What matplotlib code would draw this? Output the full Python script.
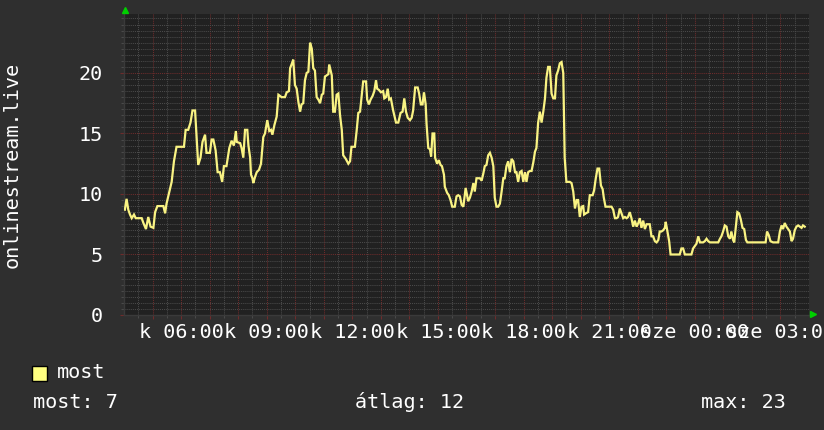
import matplotlib
matplotlib.use("Agg")
import matplotlib.pyplot as plt
from matplotlib.patches import Rectangle
from matplotlib.lines import Line2D

plt.rcParams["font.family"] = ["DejaVu Sans Mono"]


# =========================
# data (hours since Tuesday 00:00, viewers)
# =========================

t_a = [4.03, 4.09, 4.15, 4.21, 4.27, 4.35, 4.41, 4.44, 4.62, 4.68, 4.77, 4.85,
       4.93, 5.03, 5.09, 5.17, 5.38, 5.44, 5.49, 5.59, 5.67, 5.75, 5.84, 6.10,
       6.16, 6.25, 6.33, 6.40, 6.49, 6.54, 6.60, 6.68, 6.75, 6.84, 6.89, 7.01,
       7.07, 7.13, 7.21, 7.28, 7.36, 7.44, 7.50, 7.59, 7.69, 7.77, 7.85, 7.92]
v_a = [8.7, 9.6, 8.7, 8.3, 8.0, 8.3, 8.0, 8.0, 8.0, 7.6, 7.1, 8.1,
       7.3, 7.2, 8.5, 9.0, 9.0, 8.4, 9.2, 10.2, 11.0, 12.7, 13.9, 13.9,
       15.3, 15.3, 15.9, 16.9, 16.9, 14.9, 12.4, 13.0, 14.3, 14.9, 13.4, 13.4,
       14.5, 14.5, 13.6, 11.8, 11.8, 11.0, 12.3, 12.3, 13.8, 14.4, 14.0, 15.2]

t_b = [7.95, 8.07, 8.12, 8.18, 8.24, 8.32, 8.36, 8.42, 8.45, 8.50, 8.53, 8.59,
       8.65, 8.73, 8.80, 8.88, 8.94, 9.02, 9.09, 9.15, 9.20, 9.27, 9.35, 9.41,
       9.47, 9.52, 9.64, 9.70, 9.78, 9.82, 9.87, 9.93, 9.99, 10.05, 10.11, 10.17,
       10.22, 10.28, 10.34, 10.40, 10.46, 10.52, 10.58, 10.63, 10.69, 10.75, 10.81, 10.87,
       10.93, 10.98, 11.04, 11.10, 11.16, 11.19, 11.28, 11.33, 11.39, 11.45, 11.51, 11.57,
       11.63, 11.68, 11.77, 11.86]
v_b = [14.3, 14.2, 13.8, 13.0, 15.3, 15.3, 14.0, 13.0, 11.6, 11.3, 10.9, 11.4,
       11.8, 12.0, 12.5, 14.7, 15.0, 16.1, 15.2, 15.3, 14.9, 15.7, 16.4, 18.2,
       18.1, 18.0, 18.0, 18.4, 18.5, 20.4, 20.7, 21.1, 19.0, 18.7, 17.6, 16.8,
       17.4, 17.5, 19.4, 20.0, 20.1, 22.5, 22.0, 20.4, 20.2, 18.0, 17.8, 17.5,
       18.2, 18.3, 19.7, 19.8, 19.9, 20.7, 19.8, 16.8, 16.8, 18.2, 18.3, 16.5,
       15.3, 13.2, 12.9, 12.5]

t_c = [11.92, 11.97, 12.09, 12.15, 12.21, 12.27, 12.32, 12.38, 12.48, 12.52, 12.58, 12.64,
       12.71, 12.77, 12.83, 12.87, 12.93, 13.00, 13.08, 13.12, 13.18, 13.24, 13.29, 13.35,
       13.43, 13.53, 13.61, 13.69, 13.76, 13.82, 13.88, 13.94, 14.02, 14.08, 14.13, 14.20,
       14.29, 14.34, 14.40, 14.46, 14.51, 14.57, 14.60, 14.66, 14.72, 14.76, 14.81, 14.87,
       14.90, 14.97, 15.03, 15.09, 15.14, 15.21, 15.24, 15.32, 15.38, 15.44, 15.50, 15.59,
       15.65, 15.71, 15.77, 15.83, 15.89]
v_c = [12.7, 13.9, 13.9, 15.2, 16.7, 16.8, 17.9, 19.3, 19.3, 17.8, 17.4, 17.8,
       18.1, 18.5, 19.4, 18.7, 18.6, 18.4, 18.5, 17.9, 18.0, 18.7, 17.8, 17.9,
       16.9, 15.9, 15.9, 16.7, 16.8, 17.9, 16.8, 16.3, 16.1, 16.3, 16.9, 18.8,
       18.8, 18.3, 17.4, 17.4, 18.4, 17.4, 15.8, 13.8, 13.7, 13.1, 15.0, 15.0,
       13.0, 12.5, 12.8, 12.4, 12.3, 11.6, 10.6, 10.1, 9.9, 9.5, 8.95, 8.95,
       9.8, 9.9, 9.8, 9.1, 8.95]

t_d = [15.97, 16.06, 16.12, 16.18, 16.24, 16.29, 16.35, 16.41, 16.47, 16.53, 16.59, 16.64,
       16.70, 16.76, 16.82, 16.88, 16.94, 16.99, 17.05, 17.11, 17.17, 17.23, 17.29, 17.34,
       17.40, 17.46, 17.52, 17.58, 17.64, 17.70, 17.75, 17.81, 17.87, 17.93, 17.99, 18.05,
       18.10, 18.16, 18.22, 18.28, 18.34, 18.40, 18.45, 18.51, 18.57, 18.63, 18.69, 18.75,
       18.80, 18.86, 18.92, 18.98, 19.04, 19.10, 19.15, 19.21, 19.27, 19.33, 19.39, 19.44,
       19.50, 19.62, 19.68, 19.74, 19.80, 19.86, 19.91]
v_d = [10.5, 9.4, 9.7, 10.2, 10.9, 10.2, 11.3, 11.3, 11.3, 11.1, 11.7, 12.3,
       12.4, 13.2, 13.4, 13.0, 12.3, 9.7, 8.95, 8.95, 9.2, 10.2, 11.3, 11.3,
       12.3, 12.7, 11.8, 12.9, 12.7, 11.8, 11.8, 11.0, 11.8, 11.9, 11.0, 11.8,
       11.0, 11.8, 11.9, 11.9, 12.6, 13.5, 13.8, 15.9, 16.8, 15.9, 16.8, 17.9,
       19.6, 20.5, 20.5, 18.3, 17.9, 17.9, 19.8, 20.2, 20.8, 20.9, 20.0, 13.0,
       11.0, 11.0, 10.9, 10.2, 8.8, 9.5, 9.5]

t_e = [19.97, 20.03, 20.09, 20.12, 20.18, 20.26, 20.32, 20.42, 20.47, 20.53, 20.59, 20.65,
       20.71, 20.77, 20.81, 20.87, 20.96, 21.08, 21.14, 21.20, 21.26, 21.31, 21.37, 21.43,
       21.49, 21.55, 21.61, 21.66, 21.72, 21.78, 21.84, 21.90, 21.96, 22.02, 22.07, 22.13,
       22.19, 22.25, 22.31, 22.37, 22.42, 22.48, 22.54, 22.60, 22.66, 22.72, 22.77, 22.83,
       22.89, 22.95, 22.98, 23.04, 23.10, 23.15, 23.24, 23.36, 23.47, 23.53, 23.59, 23.65,
       23.77, 23.88, 23.94]
v_e = [8.1, 8.95, 9.0, 8.3, 8.4, 8.5, 9.9, 9.9, 10.3, 11.3, 12.1, 12.1,
       10.7, 10.4, 9.7, 8.95, 8.95, 8.95, 8.7, 8.0, 8.0, 8.1, 8.8, 8.4,
       8.0, 8.1, 8.0, 8.1, 8.5, 8.0, 7.3, 7.8, 7.3, 7.6, 8.0, 7.2,
       7.8, 7.1, 7.5, 7.5, 7.5, 6.5, 6.5, 6.1, 6.0, 6.2, 6.9, 6.9,
       7.0, 7.2, 7.7, 6.9, 6.1, 5.0, 5.0, 5.0, 5.0, 5.5, 5.5, 5.0,
       5.0, 5.0, 5.5]

t_f = [24.00, 24.06, 24.12, 24.18, 24.23, 24.29, 24.35, 24.41, 24.47, 24.53, 24.64, 24.76,
       24.82, 24.88, 24.93, 24.99, 25.05, 25.11, 25.17, 25.23, 25.28, 25.34, 25.38, 25.42,
       25.49, 25.55, 25.61, 25.67, 25.73, 25.79, 25.84, 25.98, 26.22, 26.39, 26.48, 26.53,
       26.59, 26.65, 26.74, 26.86, 26.92, 26.98, 27.04, 27.09, 27.15, 27.21, 27.27, 27.33,
       27.39, 27.44, 27.50, 27.56, 27.62, 27.68, 27.74, 27.79, 27.85]
v_f = [5.7, 5.9, 6.5, 6.0, 6.0, 6.0, 6.1, 6.3, 6.1, 6.0, 6.0, 6.0,
       6.0, 6.3, 6.5, 6.9, 7.4, 7.3, 6.5, 6.3, 6.9, 6.2, 6.0, 6.9,
       8.5, 8.4, 7.9, 7.2, 7.1, 6.2, 6.0, 6.0, 6.0, 6.0, 6.0, 6.9,
       6.6, 6.1, 6.0, 6.0, 6.0, 6.9, 7.4, 7.1, 7.6, 7.3, 7.1, 6.9,
       6.1, 6.3, 7.0, 7.3, 7.4, 7.3, 7.2, 7.4, 7.3]

hours = t_a + t_b + t_c + t_d + t_e + t_f
viewers = v_a + v_b + v_c + v_d + v_e + v_f

y_ticks = [0, 5, 10, 15, 20]
x_label_hours = [6, 9, 12, 15, 18, 21, 24, 27]
x_labels = ["k 06:00", "k 09:00", "k 12:00", "k 15:00",
            "k 18:00", "k 21:00", "sze 00:00", "sze 03:00"]

axis_title = "onlinestream.live"
legend_name = "most"
stat_texts = ["most: 7", "átlag: 12", "max: 23"]


# =========================
# style
# =========================

BG = "#2f2f2f"
CANVAS = "#212121"
LINE = "#f9f383"
GRID_MINOR = "#4a4a4a"
GRID_MAJOR = "#6e2c2c"
TXT = "#ffffff"
ARROW = "#00d000"
FS = 14.5

W, H = 824, 430

fig = plt.figure(figsize=(W / 100, H / 100), dpi=100, facecolor=BG)
ax = fig.add_axes([124 / W, 1 - 315 / H, 685 / W, 300.5 / H])
ax.set_facecolor(CANVAS)

ax.plot(hours, viewers, color=LINE, lw=1.6, solid_joinstyle="miter", zorder=3)

ax.set_xlim(4, 28)
ax.set_ylim(0, 24.83)

# hourly major grid, half-hour minor grid
major_x = list(range(5, 28))
ax.set_xticks(major_x,
              [x_labels[x_label_hours.index(h)] if h in x_label_hours else ""
               for h in major_x])
ax.set_xticks([h + 0.5 for h in range(4, 28)], minor=True)

ax.set_yticks(y_ticks, [str(v) for v in y_ticks])
ax.set_yticks([i * 0.5 for i in range(1, 50) if i % 10 != 0], minor=True)

ax.grid(which="minor", color=GRID_MINOR, ls=(0, (1, 1)), lw=0.75)
ax.grid(which="major", color=GRID_MAJOR, ls=(0, (1, 1)), lw=0.75)
ax.set_axisbelow(True)

ax.tick_params(which="major", direction="out", length=3, width=0.8,
               color=GRID_MAJOR, labelcolor=TXT, labelsize=FS)
ax.tick_params(which="minor", direction="out", length=2, width=0.8,
               color=GRID_MINOR)
ax.tick_params(axis="x", which="major", pad=3)
ax.tick_params(axis="y", which="major", pad=12)

for side in ["top", "right"]:
    ax.spines[side].set_visible(False)
for side in ["bottom", "left"]:
    ax.spines[side].set_color("#3a3a3a")
    ax.spines[side].set_linewidth(1)

# axis title
fig.text(12 / W, 1 - 165 / H, axis_title, rotation=90, ha="center",
         va="center", color=TXT, fontsize=FS)

# arrows at axis ends
fig.add_artist(Line2D([125.5 / W], [1 - 10 / H], marker="^", ms=5,
                      color=ARROW, transform=fig.transFigure))
fig.add_artist(Line2D([813 / W], [1 - 314 / H], marker=">", ms=5,
                      color=ARROW, transform=fig.transFigure))

# legend
fig.add_artist(Rectangle((32 / W, 1 - 381 / H), 15 / W, 15 / H,
                         transform=fig.transFigure, facecolor="#ffff80",
                         edgecolor="black", lw=1))
fig.text(57 / W, 1 - 373 / H, legend_name, ha="left", va="center",
         color=TXT, fontsize=FS)

for txt, xpix in zip(stat_texts, [33, 355, 701]):
    fig.text(xpix / W, 1 - 402 / H, txt, ha="left", va="center",
             color=TXT, fontsize=FS)

plt.savefig("out.png", dpi=100, facecolor=BG)
